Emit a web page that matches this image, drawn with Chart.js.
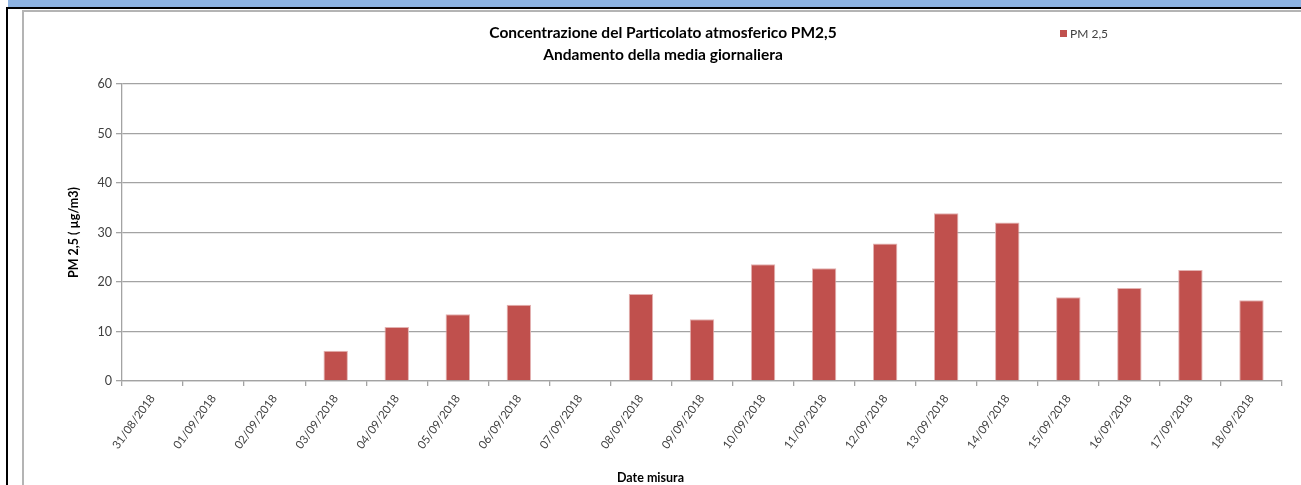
<!DOCTYPE html>
<html>
<head>
<meta charset="utf-8">
<script src="https://cdn.jsdelivr.net/npm/chart.js@4.4.1/dist/chart.umd.min.js"></script>
<style>
  html, body { margin: 0; padding: 0; background: #fff; }
  #wrap { position: relative; width: 1301px; height: 485px; overflow: hidden; }
  .blk { position: absolute; }
  #c { position: absolute; left: 0; top: 0; }
</style>
</head>
<body>
<div id="wrap">
  <div class="blk" style="left:8px;top:0;width:1293px;height:7px;background:#8db3e2;"></div>
  <div class="blk" style="left:6px;top:7px;width:1295px;height:2px;background:#000;"></div>
  <div class="blk" style="left:6px;top:7px;width:2px;height:478px;background:#000;"></div>
  <div class="blk" style="left:22px;top:10px;width:1279px;height:2px;background:#b4b4b4;"></div>
  <div class="blk" style="left:22px;top:10px;width:2px;height:475px;background:#b4b4b4;"></div>
  <canvas id="c" width="1301" height="485"></canvas>
</div>
<script>
const categories = ["31/08/2018","01/09/2018","02/09/2018","03/09/2018","04/09/2018","05/09/2018","06/09/2018","07/09/2018","08/09/2018","09/09/2018","10/09/2018","11/09/2018","12/09/2018","13/09/2018","14/09/2018","15/09/2018","16/09/2018","17/09/2018","18/09/2018"];
const pm25 = [null,null,null,6.1,10.9,13.5,15.4,null,17.6,12.5,23.6,22.8,27.8,33.9,32.0,16.9,18.8,22.4,16.3];
const yTicks = [0,10,20,30,40,50,60];
const titleLines = ["Concentrazione del Particolato atmosferico PM2,5","Andamento della media giornaliera"];
const seriesName = "PM 2,5";
const yTitle = "PM 2,5 ( \u00b5g/m3)";
const xTitle = "Date misura";

const BAR = '#c0504d';
const GRID = '#a3a3a3';
const FONT = 'Lato, "Open Sans", sans-serif';

const extraText = {
  id: 'extraText',
  afterDraw(chart) {
    const ctx = chart.ctx;
    ctx.save();
    // x axis title
    ctx.font = 'bold 12.5px ' + FONT;
    ctx.fillStyle = '#000';
    ctx.textAlign = 'center';
    ctx.textBaseline = 'middle';
    ctx.fillText(xTitle, chart.width / 2, chart.height - 7);
    // legend
    ctx.fillStyle = BAR;
    ctx.fillRect(1060, 30, 7, 7);
    ctx.font = '12px ' + FONT;
    ctx.fillStyle = '#404040';
    ctx.textAlign = 'left';
    ctx.fillText(seriesName, 1070, 34);
    ctx.restore();
  }
};

new Chart(document.getElementById('c'), {
  type: 'bar',
  data: {
    labels: categories,
    datasets: [{
      label: seriesName,
      data: pm25,
      backgroundColor: BAR,
      borderColor: '#e3b2b1',
      borderWidth: 1,
      borderSkipped: 'bottom',
      barPercentage: 0.4,
      categoryPercentage: 1.0
    }]
  },
  options: {
    responsive: false,
    animation: false,
    events: [],
    layout: { padding: { left: 44, right: 19, top: 0, bottom: 0 } },
    plugins: {
      legend: { display: false },
      tooltip: { enabled: false },
      title: {
        display: true,
        text: titleLines,
        color: '#000',
        font: { family: FONT, size: 15.5, weight: 'bold', lineHeight: 22/15.5 },
        padding: { top: 22, bottom: 18 }
      }
    },
    scales: {
      x: {
        afterFit(scale) { scale.height = 104; },
        grid: {
          offset: true,
          drawOnChartArea: false,
          drawTicks: true,
          tickLength: 5,
          color: GRID,
          lineWidth: 1.3
        },
        border: { display: true, color: GRID, width: 1.3 },
        ticks: {
          autoSkip: false,
          minRotation: 54,
          maxRotation: 54,
          padding: 6,
          color: '#404040',
          font: { family: FONT, size: 11.5 }
        },
        title: { display: false }
      },
      y: {
        min: 0,
        max: 60,
        afterFit(scale) { scale.width = 78; },
        afterBuildTicks(scale) { scale.ticks = yTicks.map(v => ({ value: v })); },
        grid: {
          color: GRID,
          lineWidth: 1.3,
          drawTicks: true,
          tickLength: 6
        },
        border: { display: true, color: GRID, width: 1.3 },
        ticks: {
          padding: 4,
          color: '#404040',
          font: { family: FONT, size: 12.5 }
        },
        title: {
          display: true,
          text: yTitle,
          color: '#000',
          font: { family: FONT, size: 12.5, weight: 'bold' },
          padding: { top: 22, bottom: 0 }
        }
      }
    }
  },
  plugins: [extraText]
});
</script>
</body>
</html>
